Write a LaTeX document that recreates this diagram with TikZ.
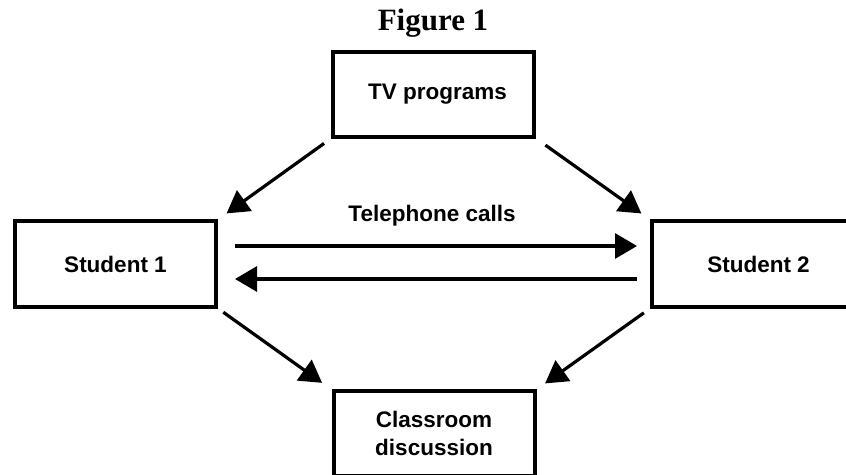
\documentclass[tikz,border=0pt]{standalone}
\usepackage{fontspec}
\setmainfont{Liberation Serif}
\newfontfamily\diagfont{Liberation Sans}
\usetikzlibrary{arrows.meta}
\tikzset{
  box/.style={draw=black, line width=4pt, minimum width=201pt, minimum height=85pt,
    outer sep=0pt, inner sep=0pt, align=center, font=\diagfont\bfseries\fontsize{22.5}{28.5}\selectfont},
  arr/.style={line width=3.2pt, -{Triangle[length=22pt,width=25pt]}},
  lbl/.style={font=\diagfont\bfseries\fontsize{22.5}{28.5}\selectfont, inner sep=0pt}
}
\begin{document}
\begin{tikzpicture}[x=1pt,y=1pt]
\useasboundingbox (0,0) rectangle (846,474);
\node[font=\bfseries\fontsize{31}{36}\selectfont, inner sep=0pt] (title) at (433,451) {Figure 1};
\node[box] (tv) at (433.5,379.5) {\hspace*{8pt}TV programs};
\node[box, minimum height=86pt] (s1) at (115.5,210) {Student 1};
\node[box, minimum height=86pt] (s2) at (752.5,210) {\hspace*{12pt}Student 2};
\node[box, minimum height=85pt] (cl) at (434,40.5) {Classroom\\discussion};
\draw[arr, shorten <=11pt, shorten >=13pt] (tv.south west) -- (s1.north east);
\draw[arr, shorten <=14pt, shorten >=13pt] (tv.south east) -- (s2.north west);
\draw[arr, shorten <=9pt, shorten >=14pt] (s1.south east) -- (cl.north west);
\draw[arr, shorten <=10pt, shorten >=13pt] (s2.south west) -- (cl.north east);
\draw[arr, shorten <=19pt, shorten >=15pt] ([yshift=18pt]s1.east) -- ([yshift=18pt]s2.west);
\draw[arr, shorten <=15pt, shorten >=19pt] ([yshift=-15pt]s2.west) -- ([yshift=-15pt]s1.east);
\node[lbl] (tel) at (432,258) {Telephone calls};
\end{tikzpicture}
\end{document}
